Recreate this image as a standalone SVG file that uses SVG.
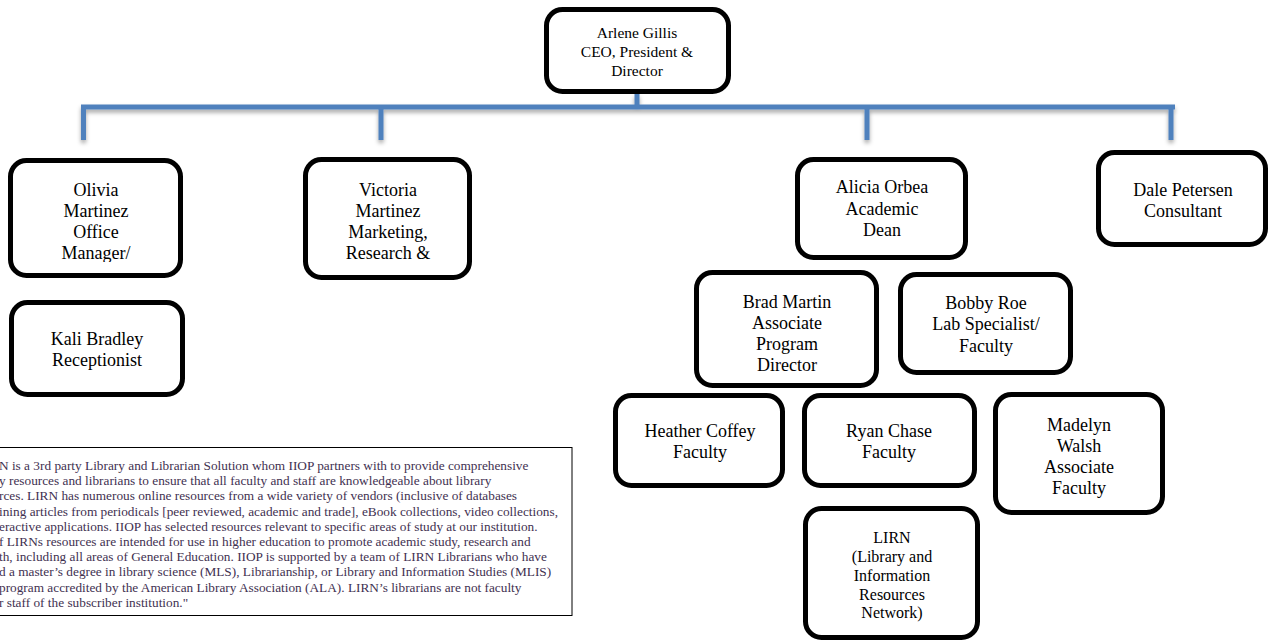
<svg xmlns="http://www.w3.org/2000/svg" width="1272" height="642" viewBox="0 0 1272 642">
<style>
.box{fill:#fff;stroke:#000;stroke-width:5}
.t{font-family:"Liberation Serif","Times New Roman",serif;font-size:18px;fill:#000;text-anchor:middle}
.conn{stroke:#4f81bd;stroke-width:5;fill:none}
.note{font-family:"Liberation Serif","Times New Roman",serif;font-size:13.3px;fill:#3f3151}
</style>
<defs>
<filter id="sh" x="-5%" y="-50%" width="110%" height="200%">
<feDropShadow dx="0" dy="3" stdDeviation="2" flood-color="#000" flood-opacity="0.35"/>
</filter>
<clipPath id="clipO"><rect x="0" y="160" width="200" height="102"/></clipPath>
<clipPath id="clipV"><rect x="290" y="160" width="200" height="102"/></clipPath>
</defs>
<rect width="1272" height="642" fill="#fff"/>
<g id="connectors" filter="url(#sh)">
<path class="conn" d="M637 94V107M81 107H1175M83.5 107V140M381 107V140M867 107V140M1171 107V140"/>
</g>
<g id="arlene">
<rect class="box" x="546.5" y="9.5" width="182" height="82" rx="16"/>
<text class="t" style="font-size:15.5px" x="637" y="38">Arlene Gillis</text>
<text class="t" style="font-size:15.5px" x="637" y="57">CEO, President &amp;</text>
<text class="t" style="font-size:15.5px" x="637" y="76">Director</text>
</g>
<g id="olivia">
<rect class="box" x="10.5" y="160.5" width="170" height="115" rx="16"/>
<g clip-path="url(#clipO)">
<text class="t" x="96" y="196">Olivia</text>
<text class="t" x="96" y="217">Martinez</text>
<text class="t" x="96" y="238">Office</text>
<text class="t" x="96" y="259">Manager/</text>
</g>
</g>
<g id="victoria">
<rect class="box" x="305.5" y="159.5" width="164" height="118" rx="16"/>
<g clip-path="url(#clipV)">
<text class="t" x="388" y="196">Victoria</text>
<text class="t" x="388" y="217">Martinez</text>
<text class="t" x="388" y="238">Marketing,</text>
<text class="t" x="388" y="259">Research &amp;</text>
</g>
</g>
<g id="kali">
<rect class="box" x="11.5" y="302.5" width="171" height="92" rx="16"/>
<text class="t" x="97" y="345">Kali Bradley</text>
<text class="t" x="97" y="366">Receptionist</text>
</g>
<g id="alicia">
<rect class="box" x="797.5" y="159.5" width="168" height="98" rx="16"/>
<text class="t" x="882" y="193">Alicia Orbea</text>
<text class="t" x="882" y="215">Academic</text>
<text class="t" x="882" y="236">Dean</text>
</g>
<g id="dale">
<rect class="box" x="1098.5" y="152.5" width="167" height="92" rx="16"/>
<text class="t" x="1183" y="196">Dale Petersen</text>
<text class="t" x="1183" y="217">Consultant</text>
</g>
<g id="brad">
<rect class="box" x="696.5" y="272.5" width="180" height="113" rx="16"/>
<text class="t" x="787" y="308">Brad Martin</text>
<text class="t" x="787" y="329">Associate</text>
<text class="t" x="787" y="350">Program</text>
<text class="t" x="787" y="371">Director</text>
</g>
<g id="bobby">
<rect class="box" x="900.5" y="274.5" width="170" height="98" rx="16"/>
<text class="t" x="986" y="309">Bobby Roe</text>
<text class="t" x="986" y="330">Lab Specialist/</text>
<text class="t" x="986" y="352">Faculty</text>
</g>
<g id="heather">
<rect class="box" x="615.5" y="395.5" width="167" height="90" rx="16"/>
<text class="t" x="700" y="437">Heather Coffey</text>
<text class="t" x="700" y="458">Faculty</text>
</g>
<g id="ryan">
<rect class="box" x="804.5" y="395.5" width="170" height="90" rx="16"/>
<text class="t" x="889" y="437">Ryan Chase</text>
<text class="t" x="889" y="458">Faculty</text>
</g>
<g id="madelyn">
<rect class="box" x="995.5" y="394.5" width="167" height="118" rx="16"/>
<text class="t" x="1079" y="431">Madelyn</text>
<text class="t" x="1079" y="452">Walsh</text>
<text class="t" x="1079" y="473">Associate</text>
<text class="t" x="1079" y="494">Faculty</text>
</g>
<g id="lirn">
<rect class="box" x="805.5" y="508.5" width="172" height="129" rx="16"/>
<text class="t" style="font-size:16px" x="892" y="543">LIRN</text>
<text class="t" style="font-size:16px" x="892" y="562">(Library and</text>
<text class="t" style="font-size:16px" x="892" y="581">Information</text>
<text class="t" style="font-size:16px" x="892" y="600">Resources</text>
<text class="t" style="font-size:16px" x="892" y="618">Network)</text>
</g>
<g id="note">
<rect x="-3" y="447.5" width="575" height="168" fill="#fff" stroke="#000" stroke-width="1"/>
<text class="note" x="-1" y="470">N is a 3rd party Library and Librarian Solution whom IIOP partners with to provide comprehensive</text>
<text class="note" x="-1" y="485.2">y resources and librarians to ensure that all faculty and staff are knowledgeable about library</text>
<text class="note" x="-1" y="500.4">rces.  LIRN has numerous online resources from a wide variety of vendors (inclusive of databases</text>
<text class="note" x="-1" y="515.6">ining articles from periodicals [peer reviewed, academic and trade], eBook collections, video collections,</text>
<text class="note" x="-1" y="530.8">eractive applications.  IIOP has selected resources relevant to specific areas of study at our institution.</text>
<text class="note" x="-1" y="546">f LIRNs resources are intended for use in higher education to promote academic study, research and</text>
<text class="note" x="-1" y="561.2">th, including all areas of General Education. IIOP is supported by a team of LIRN Librarians who have</text>
<text class="note" x="-1" y="576.4">d a master’s degree in library science (MLS), Librarianship, or Library and Information Studies (MLIS)</text>
<text class="note" x="-1" y="591.6">program accredited by the American Library Association (ALA).   LIRN’s librarians are not faculty</text>
<text class="note" x="-1" y="606.8">r staff of the subscriber institution."</text>
</g>
</svg>
